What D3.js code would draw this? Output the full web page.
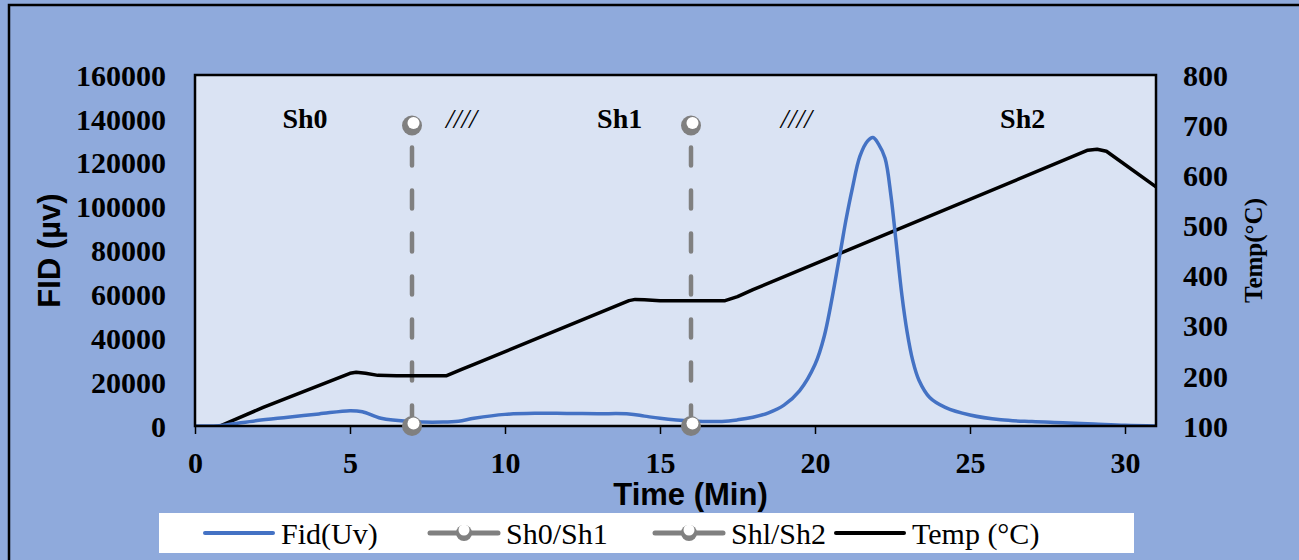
<!DOCTYPE html>
<html>
<head>
<meta charset="utf-8">
<script src="https://cdn.jsdelivr.net/npm/d3@7"></script>
<style>
  body { margin: 0; background: #8FAADC; }
  svg { display: block; }
</style>
</head>
<body>
<div class="canvas"></div>
<script>
// time (min) / FID (µv)
const fidTime = [0, 0.6, 1, 2, 3, 4, 5, 5.4, 6, 7, 8, 8.5, 9, 10, 11, 12, 13, 14, 14.5, 15, 16, 17, 17.5, 18, 18.5, 19, 19.5, 20, 20.3, 20.8, 21.0, 21.2, 21.45, 21.7, 21.87, 22.05, 22.26, 22.45, 22.6, 22.8, 22.97, 23.15, 23.35, 23.7, 24.2, 25, 26, 27, 28, 29, 30, 31];
const fidValue = [0, 0, 500, 2500, 4000, 5500, 7000, 6500, 3500, 2000, 1800, 2200, 3500, 5300, 5800, 5700, 5600, 5500, 4500, 3500, 2300, 2100, 2800, 4000, 6000, 9500, 16000, 28000, 41000, 78000, 94000, 108000, 123000, 130000, 131500, 128500, 122000, 105000, 86000, 60000, 43000, 30000, 21000, 13000, 8500, 5000, 2800, 2000, 1500, 900, 300, 0];

// time (min) / temperature (°C)
const tempTime = [0.8, 2.2, 5.0, 5.2, 5.5, 5.9, 6.5, 8.1, 8.6, 9, 14, 14.2, 14.5, 15, 17.1, 17.5, 18, 28.8, 29.1, 29.4, 31];
const tempValue = [100, 137, 205, 207, 205, 201, 200, 200, 213, 223, 350, 352.5, 352, 350, 350, 358, 372, 650, 652, 648, 577];

// fraction boundaries (min) and the FID height of their markers
const boundaryNames = ['Sh0/Sh1', 'Shl/Sh2'];
const boundaryTime = [7, 16];
const boundaryTop = 137000;

// region labels
const regionText = ['Sh0', '////', 'Sh1', '////', 'Sh2'];
const regionTime = [3.55, 8.6, 13.7, 19.4, 26.7];
const regionLevel = 136000;

const xTicks = [0, 5, 10, 15, 20, 25, 30];
const fidTicks = [0, 20000, 40000, 60000, 80000, 100000, 120000, 140000, 160000];
const tempTicks = [100, 200, 300, 400, 500, 600, 700, 800];

const W = 1299, H = 560;
const plot = {left: 195, top: 75, right: 1156, bottom: 426};
const serif = '"Liberation Serif", "Times New Roman", serif';
const sans = '"Liberation Sans", Arial, sans-serif';
const gray = '#808080';

const svg = d3.select('.canvas').append('svg')
	.attr('width', W)
	.attr('height', H);

// outer chart frame
svg.append('rect')
	.attr('x', 9).attr('y', 5)
	.attr('width', W + 20).attr('height', H + 20)
	.attr('fill', '#8FAADC')
	.attr('stroke', '#000')
	.attr('stroke-width', 2.5);

const x = d3.scaleLinear().domain([0, 31]).range([plot.left, plot.right]);
const y = d3.scaleLinear().domain([0, 160000]).range([plot.bottom, plot.top]);
const y2 = d3.scaleLinear().domain([100, 800]).range([plot.bottom, plot.top]);

// plot area
svg.append('rect')
	.attr('x', plot.left).attr('y', plot.top)
	.attr('width', plot.right - plot.left).attr('height', plot.bottom - plot.top)
	.attr('fill', '#DAE3F3');

svg.append('defs').append('clipPath').attr('id', 'clip')
	.append('rect')
	.attr('x', plot.left).attr('y', plot.top)
	.attr('width', plot.right - plot.left).attr('height', plot.bottom - plot.top);

// axes
const xAxis = d3.axisBottom(x).tickValues(xTicks).tickSize(8).tickSizeOuter(0).tickPadding(18);
const yAxis = d3.axisLeft(y).tickValues(fidTicks).tickSize(0).tickPadding(29).tickFormat(d3.format('d'));
const y2Axis = d3.axisRight(y2).tickValues(tempTicks).tickSize(0).tickPadding(27).tickFormat(d3.format('d'));

const xg = svg.append('g').attr('transform', `translate(0, ${plot.bottom})`).call(xAxis);
const yg = svg.append('g').attr('transform', `translate(${plot.left}, 0)`).call(yAxis);
const y2g = svg.append('g').attr('transform', `translate(${plot.right}, 0)`).call(y2Axis);

[xg, yg, y2g].forEach(g => {
	g.select('.domain').remove();
	g.selectAll('line').attr('stroke', '#000').attr('stroke-width', 1.5);
	g.selectAll('text')
		.attr('fill', '#000')
		.style('font-family', serif)
		.style('font-weight', 'bold')
		.style('font-size', '30px');
});
yg.selectAll('text').attr('dy', '0.34em');
y2g.selectAll('text').attr('dy', '0.34em');

const data = fidTime.map((t, i) => ({t: t, v: fidValue[i]}));
const temp = tempTime.map((t, i) => ({t: t, v: tempValue[i]}));

const lines = svg.append('g').attr('clip-path', 'url(#clip)');

// boundary dashed lines
lines.selectAll('.bound')
	.data(boundaryTime)
	.enter()
	.append('line')
	.attr('class', 'bound')
	.attr('x1', d => x(d)).attr('x2', d => x(d))
	.attr('y1', y(boundaryTop)).attr('y2', y(0))
	.attr('stroke', gray)
	.attr('stroke-width', 4.5)
	.attr('stroke-linecap', 'round')
	.attr('stroke-dasharray', '18,25')
	.attr('stroke-dashoffset', -22);

lines.append('path')
	.datum(temp)
	.attr('fill', 'none')
	.attr('stroke', '#000')
	.attr('stroke-width', 3.5)
	.attr('stroke-linejoin', 'round')
	.attr('d', d3.line().x(d => x(d.t)).y(d => y2(d.v)));

lines.append('path')
	.datum(data)
	.attr('fill', 'none')
	.attr('stroke', '#4472C4')
	.attr('stroke-width', 3.5)
	.attr('stroke-linejoin', 'round')
	.attr('d', d3.line().x(d => x(d.t)).y(d => y(d.v)).curve(d3.curveCatmullRom.alpha(0.5)));

// plot border
svg.append('rect')
	.attr('x', plot.left).attr('y', plot.top)
	.attr('width', plot.right - plot.left).attr('height', plot.bottom - plot.top)
	.attr('fill', 'none')
	.attr('stroke', '#000')
	.attr('stroke-width', 2.5);

function marker(g, cx, cy, r) {
	g.append('circle').attr('cx', cx).attr('cy', cy).attr('r', r).attr('fill', gray);
	g.append('circle').attr('cx', cx + r * 0.15).attr('cy', cy - r * 0.25).attr('r', r * 0.6).attr('fill', '#fff');
}

const marks = svg.append('g');
boundaryTime.forEach(t => {
	marker(marks, x(t), y(boundaryTop), 10);
	marker(marks, x(t), y(0), 10);
});

// region labels
svg.selectAll('.region')
	.data(regionText)
	.enter()
	.append('text')
	.attr('class', 'region')
	.attr('x', (d, i) => x(regionTime[i]))
	.attr('y', y(regionLevel))
	.attr('text-anchor', 'middle')
	.style('font-family', serif)
	.style('font-size', '28px')
	.style('font-weight', d => d === '////' ? 'normal' : 'bold')
	.style('font-style', d => d === '////' ? 'italic' : 'normal')
	.text(d => d);

// axis titles
svg.append('text')
	.attr('x', (plot.left + plot.right) / 2 + 15)
	.attr('y', 505)
	.attr('text-anchor', 'middle')
	.style('font-family', sans)
	.style('font-weight', 'bold')
	.style('font-size', '31px')
	.text('Time (Min)');

svg.append('text')
	.attr('transform', `translate(60, ${(plot.top + plot.bottom) / 2}) rotate(-90)`)
	.attr('text-anchor', 'middle')
	.style('font-family', sans)
	.style('font-weight', 'bold')
	.style('font-size', '31px')
	.text('FID (µv)');

svg.append('text')
	.attr('transform', `translate(1262, ${(plot.top + plot.bottom) / 2}) rotate(-90)`)
	.attr('text-anchor', 'middle')
	.style('font-family', serif)
	.style('font-weight', 'bold')
	.style('font-size', '25px')
	.text('Temp(°C)');

// legend
const legend = svg.append('g');
legend.append('rect')
	.attr('x', 159).attr('y', 513)
	.attr('width', 975).attr('height', 40)
	.attr('fill', '#fff');

const legendItems = [
	{name: 'Fid(Uv)', color: '#4472C4', x0: 205, mark: false},
	{name: boundaryNames[0], color: gray, x0: 430, mark: true},
	{name: boundaryNames[1], color: gray, x0: 655, mark: true},
	{name: 'Temp (°C)', color: '#000', x0: 836, mark: false}
];
const ly = 533;
legendItems.forEach(item => {
	legend.append('line')
		.attr('x1', item.x0).attr('x2', item.x0 + 68)
		.attr('y1', ly).attr('y2', ly)
		.attr('stroke', item.color)
		.attr('stroke-width', item.mark ? 5 : 4)
		.attr('stroke-linecap', 'round');
	if (item.mark) {
		legend.append('circle').attr('cx', item.x0 + 34).attr('cy', ly).attr('r', 8).attr('fill', gray);
		legend.append('circle').attr('cx', item.x0 + 34).attr('cy', ly - 3).attr('r', 5.5).attr('fill', '#fff');
	}
	legend.append('text')
		.attr('x', item.x0 + 76)
		.attr('y', ly + 11)
		.style('font-family', serif)
		.style('font-size', '30px')
		.text(item.name);
});
</script>
</body>
</html>
